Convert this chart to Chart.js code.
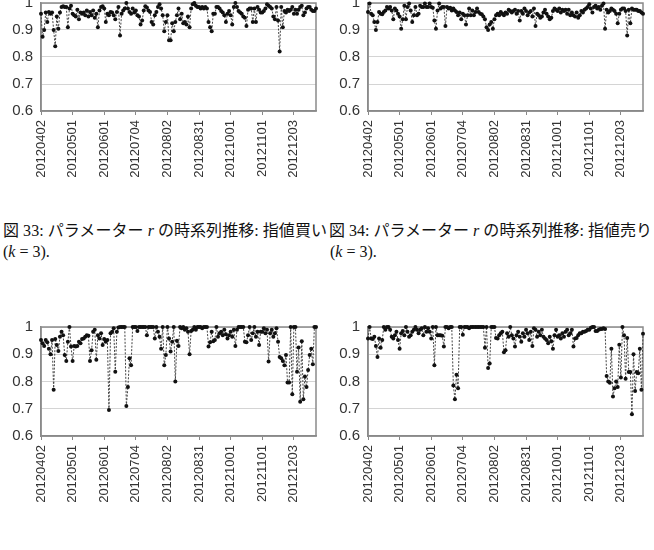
<!DOCTYPE html>
<html>
<head>
<meta charset="utf-8">
<script src="https://cdn.jsdelivr.net/npm/chart.js@4/dist/chart.umd.min.js"></script>
<style>
  html, body { margin: 0; padding: 0; background: #fff; }
  body { width: 654px; height: 550px; position: relative; overflow: hidden; }
  canvas { position: absolute; }
  .cap { position: absolute; white-space: nowrap; font-family: "Liberation Serif", "Noto Sans CJK JP", serif; font-size: 16px; line-height: 18px; color: #111; }
  .cap i { font-family: "Liberation Serif", serif; }
  .sp { display: inline-block; width: 4px; }
</style>
</head>
<body>
<canvas id="c1" width="325" height="200" style="left:0px;top:-20px;"></canvas>
<canvas id="c2" width="325" height="200" style="left:327px;top:-20px;"></canvas>
<canvas id="c3" width="325" height="201" style="left:0px;top:304px;"></canvas>
<canvas id="c4" width="325" height="201" style="left:327px;top:304px;"></canvas>
<div class="cap" id="t1" style="left:3px;top:222px;">図 33: パラメーター <i>r</i> の時系列推移: 指値買い</div>
<div class="cap" style="left:3px;top:243px;">(<i>k</i><span class="sp"></span>=<span class="sp"></span>3).</div>
<div class="cap" id="t2" style="left:329px;top:222px;">図 34: パラメーター <i>r</i> の時系列推移: 指値売り</div>
<div class="cap" style="left:330px;top:243px;">(<i>k</i><span class="sp"></span>=<span class="sp"></span>3).</div>
<script>
// Tick labels shown every 20 trading days
const TICK_LABELS = ['20120402','20120501','20120601','20120704','20120802','20120831','20121001','20121101','20121203'];
const TICK_EVERY = 20;
const Y_TICK_LABELS = ['0.6','0.7','0.8','0.9','1'];

// 図 33: 指値買い (k = 3)
const R_BUY_K3 = [
  0.96,0.875,0.90,0.965,0.93,0.967,0.96,0.965,0.90,0.84,
  0.95,0.905,0.965,0.985,0.988,0.985,0.985,0.91,0.98,0.99,
  0.96,0.955,0.95,0.975,0.94,0.965,0.96,0.965,0.955,0.972,
  0.95,0.967,0.955,0.972,0.945,0.96,0.91,0.972,0.985,0.988,
  0.98,0.93,0.96,0.955,0.967,0.965,0.955,0.94,0.967,0.985,
  0.88,0.96,0.972,0.98,1.0,0.98,0.967,0.96,0.98,0.965,
  0.972,0.955,0.95,0.92,0.935,0.972,0.988,0.983,0.972,0.967,
  0.93,0.92,0.955,0.967,0.985,0.995,0.98,0.955,0.895,0.93,
  0.955,0.862,0.862,0.925,0.895,0.93,0.955,0.98,0.94,0.96,
  0.925,0.93,0.92,0.95,0.91,0.98,0.995,1.0,0.99,0.985,
  0.985,0.98,0.985,0.98,0.985,0.98,0.93,0.91,0.895,0.96,
  0.96,0.985,0.985,0.98,0.97,0.965,0.955,0.93,0.96,0.97,
  0.955,0.92,0.985,1.0,0.985,0.97,0.965,0.96,0.95,0.945,
  0.915,0.975,0.98,0.98,0.93,0.98,0.93,0.985,0.975,0.965,
  0.965,0.97,0.98,0.995,0.99,0.985,0.98,0.95,0.94,0.985,
  0.935,0.82,0.985,0.91,0.97,0.965,0.975,0.97,0.975,0.985,
  0.96,0.975,0.96,0.975,0.985,0.99,0.955,0.965,0.98,0.985,
  0.985,0.975,0.97,0.97,0.98
];

// 図 34: 指値売り (k = 3)
const R_SELL_K3 = [
  0.967,0.998,0.96,0.955,0.93,0.90,0.93,0.967,0.96,0.958,
  0.967,0.972,0.985,0.98,0.985,0.972,0.94,0.98,0.972,0.96,
  0.95,0.905,0.94,0.99,0.94,0.985,0.998,0.972,0.93,0.955,
  0.985,0.955,0.96,0.99,0.985,0.985,0.998,0.985,0.985,0.998,
  0.985,0.982,0.935,0.905,0.972,0.998,0.98,0.985,0.985,0.915,
  0.985,0.98,0.982,0.972,0.98,0.972,0.967,0.955,0.965,0.94,
  0.96,0.955,0.92,0.955,0.98,0.955,0.972,0.955,0.967,0.98,
  0.967,0.96,0.958,0.95,0.94,0.91,0.90,0.92,0.93,0.905,
  0.94,0.955,0.96,0.955,0.967,0.96,0.955,0.965,0.96,0.975,
  0.97,0.965,0.97,0.975,0.96,0.97,0.935,0.97,0.96,0.98,
  0.97,0.955,0.965,0.97,0.95,0.98,0.915,0.96,0.955,0.945,
  0.95,0.965,0.975,0.96,0.95,0.94,0.945,0.97,0.98,0.975,
  0.97,0.98,0.965,0.975,0.97,0.975,0.96,0.975,0.955,0.965,
  0.955,0.95,0.965,0.945,0.955,0.97,0.965,0.975,0.98,0.985,
  0.995,0.98,0.965,0.985,0.99,0.98,0.985,0.975,0.99,0.998,
  0.905,0.975,0.965,0.97,0.98,0.975,0.97,0.96,0.925,0.96,
  0.975,0.98,0.98,0.97,0.88,0.975,0.925,0.98,0.975,0.975,
  0.975,0.97,0.97,0.965,0.96
];

// lower-left panel
const R_BUY_LOWER = [
  0.952,0.94,0.93,0.952,0.944,0.92,0.90,0.952,0.77,0.956,
  0.934,0.912,0.964,0.983,0.97,0.897,0.875,0.946,1.0,0.928,
  0.875,0.93,0.928,0.93,0.946,0.94,0.956,0.958,0.964,0.97,
  0.968,0.875,0.915,0.983,0.99,0.88,0.97,0.958,0.977,0.934,
  0.956,0.946,0.952,0.695,0.977,0.983,0.995,0.836,0.983,0.998,
  1.0,1.0,1.0,1.0,0.71,0.78,0.885,0.86,1.0,1.0,
  1.0,0.985,1.0,1.0,1.0,1.0,1.0,0.97,1.0,1.0,
  1.0,1.0,0.958,1.0,0.983,0.964,0.92,1.0,0.86,0.897,
  1.0,0.958,0.91,0.946,1.0,0.80,0.95,0.93,1.0,0.995,
  1.0,0.99,0.995,0.983,0.90,0.985,0.99,1.0,0.99,1.0,
  1.0,1.0,0.995,1.0,1.0,1.0,0.928,0.944,0.983,0.948,
  0.952,1.0,0.964,0.977,0.983,0.97,0.99,0.973,0.958,0.97,
  0.983,0.964,0.99,0.93,0.99,1.0,1.0,1.0,1.0,0.946,
  0.944,0.97,1.0,0.952,0.977,1.0,0.964,0.983,0.934,0.983,
  0.983,0.995,0.977,0.99,0.873,0.977,0.99,0.964,0.977,0.995,
  0.946,0.89,0.885,0.875,0.86,0.897,0.796,0.796,1.0,0.753,
  1.0,1.0,0.836,0.925,0.726,0.948,0.735,0.818,0.78,0.842,
  0.897,0.92,0.863,1.0,1.0
];

// lower-right panel
const R_SELL_LOWER = [
  0.958,1.0,0.958,0.956,0.964,0.93,0.89,0.958,0.924,0.952,
  1.0,0.99,1.0,1.0,0.99,0.964,0.958,0.97,0.983,0.952,
  0.92,0.977,0.985,0.97,1.0,0.983,0.964,0.97,0.983,0.99,
  1.0,0.99,0.977,0.99,0.995,0.97,1.0,0.983,0.995,0.983,
  0.958,1.0,0.86,1.0,0.97,0.97,0.97,0.968,0.928,1.0,
  1.0,0.995,1.0,1.0,0.785,0.735,0.825,0.775,1.0,1.0,
  0.972,1.0,1.0,1.0,0.995,1.0,1.0,1.0,1.0,1.0,
  1.0,1.0,1.0,1.0,0.924,1.0,0.85,0.866,1.0,1.0,
  1.0,0.96,0.958,0.97,0.977,0.983,0.907,0.915,0.977,0.964,
  1.0,0.97,0.958,0.928,0.97,0.983,0.964,0.946,0.977,0.964,
  0.99,0.977,0.952,0.983,0.93,0.995,0.99,0.964,0.983,0.97,
  0.99,0.964,0.958,0.952,0.94,0.964,0.948,0.92,0.97,0.99,
  0.964,0.97,0.958,0.977,0.964,0.983,0.99,0.97,0.977,0.99,
  0.928,0.958,0.96,0.97,0.977,0.977,0.983,0.983,0.985,0.99,
  0.99,0.997,1.0,1.0,0.985,0.985,0.99,0.993,0.993,0.995,
  0.993,0.82,0.80,0.795,0.92,0.745,0.775,0.80,0.78,0.935,
  0.815,1.0,0.97,0.81,0.96,0.835,0.835,0.68,0.90,0.765,
  0.835,0.83,0.92,0.77,0.975
];

const framePlugin = {
  id: 'frame',
  beforeDatasetsDraw(chart) {
    const a = chart.chartArea, c = chart.ctx;
    c.save();
    c.strokeStyle = '#8a8a8a';
    c.lineWidth = 1.5;
    c.strokeRect(a.left, a.top, a.right - a.left, a.bottom - a.top);
    c.restore();
  }
};

function makeChart(id, values) {
  const labels = values.map((_, i) => i);
  new Chart(document.getElementById(id), {
    type: 'line',
    data: {
      labels: labels,
      datasets: [{
        data: values,
        borderColor: '#444',
        borderWidth: 1,
        borderDash: [2, 1.5],
        pointRadius: 2,
        pointBackgroundColor: '#111',
        pointBorderColor: '#111',
        pointBorderWidth: 0,
        tension: 0,
        clip: false
      }]
    },
    options: {
      responsive: false,
      animation: false,
      devicePixelRatio: 1,
      layout: { padding: { top: 23, right: 9, left: 0, bottom: 0 } },
      plugins: { legend: { display: false }, tooltip: { enabled: false } },
      scales: {
        x: {
          type: 'category',
          offset: false,
          grid: { drawOnChartArea: false, drawTicks: true, tickLength: 4, color: '#888', lineWidth: 1 },
          border: { display: true, color: '#888', width: 1.5 },
          ticks: {
            autoSkip: false,
            minRotation: 90,
            maxRotation: 90,
            padding: 5,
            color: '#333',
            font: { family: 'Liberation Sans', size: 13 },
            callback: (v, i) => (i % TICK_EVERY === 0 ? TICK_LABELS[i / TICK_EVERY] : null)
          },
          afterFit: (s) => { s.height = 69; }
        },
        y: {
          min: 0.6,
          max: 1,
          grid: { color: '#d4d4d4', lineWidth: 1, drawTicks: false },
          border: { display: true, color: '#888', width: 1.5 },
          ticks: {
            stepSize: 0.1,
            padding: 8,
            color: '#333',
            font: { family: 'Liberation Sans', size: 15 },
            callback: (v) => Y_TICK_LABELS[Math.round((v - 0.6) * 10)]
          },
          afterFit: (s) => { s.width = 41; }
        }
      }
    },
    plugins: [framePlugin]
  });
}

makeChart('c1', R_BUY_K3);
makeChart('c2', R_SELL_K3);
makeChart('c3', R_BUY_LOWER);
makeChart('c4', R_SELL_LOWER);

// stretch caption lines to the printed width (3..327 and 329..652)
[['t1', 324], ['t2', 323]].forEach(([id, w]) => {
  const el = document.getElementById(id);
  const cur = el.getBoundingClientRect().width;
  const n = el.textContent.length;
  if (cur < w && n > 1) el.style.letterSpacing = ((w - cur) / (n - 1)).toFixed(2) + 'px';
});
</script>
</body>
</html>
